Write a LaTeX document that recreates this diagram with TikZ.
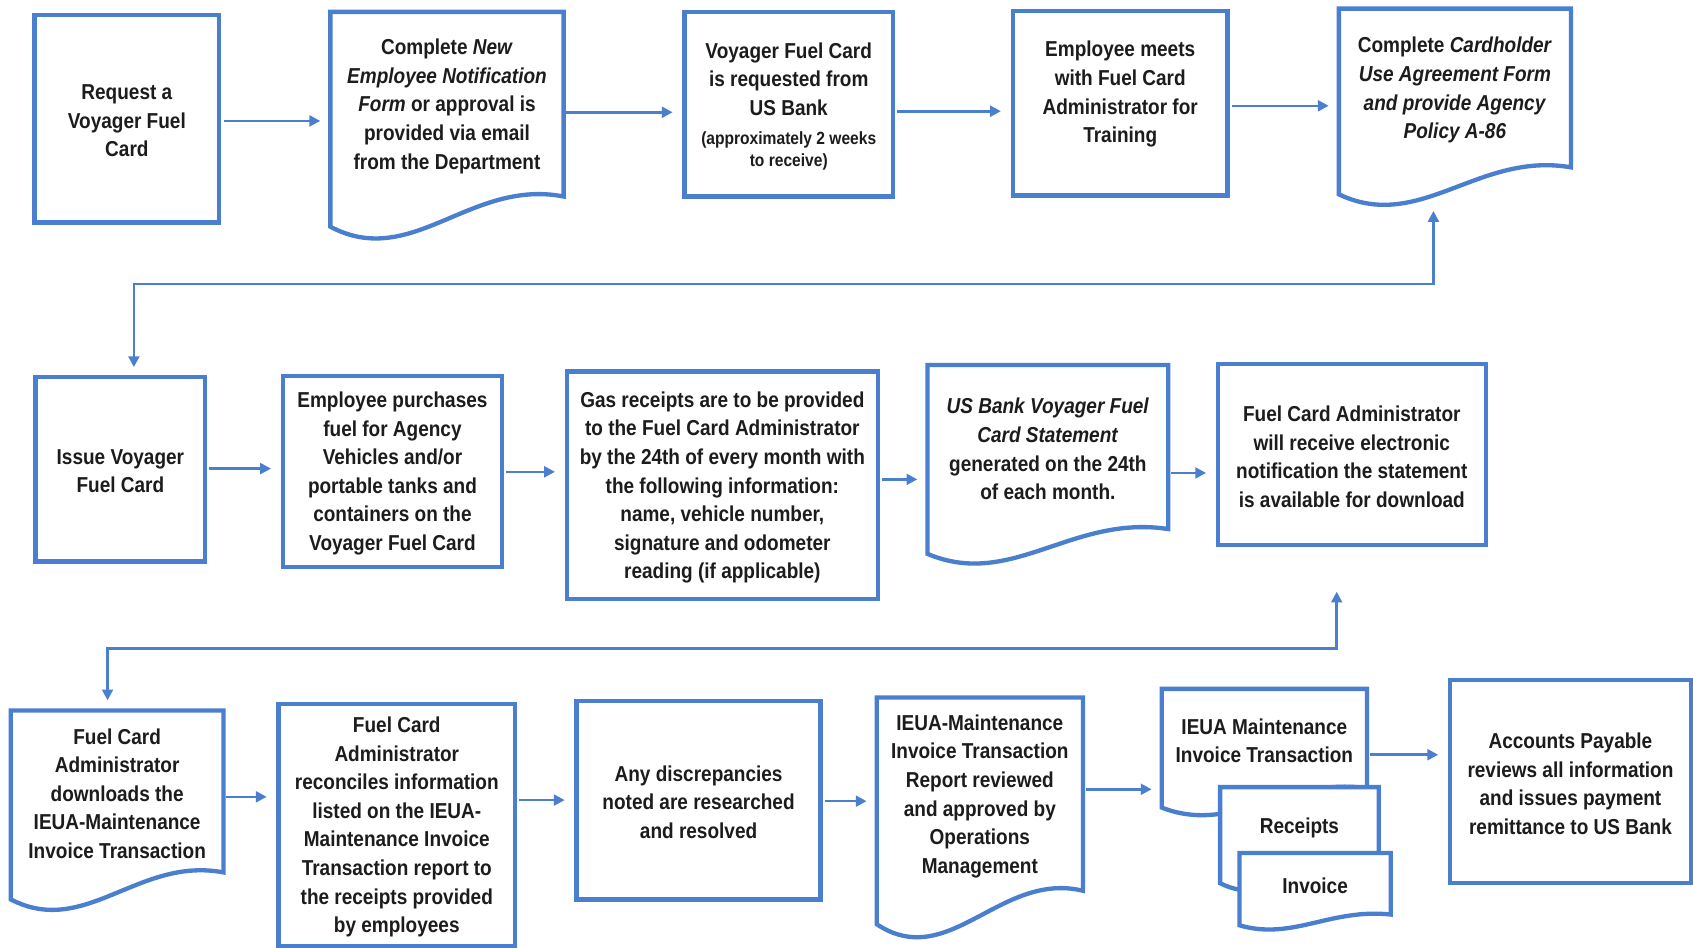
\documentclass[tikz,border=0pt]{standalone}
\usepackage{fontspec}
\setmainfont{Liberation Sans}[FakeStretch=0.88]
\usetikzlibrary{arrows.meta,fit,calc}
\definecolor{fcblue}{RGB}{74,126,207}
\definecolor{txt}{RGB}{28,28,28}
\newcommand\fcfont{\bfseries\fontsize{10}{13.25}\selectfont}
\newcommand\smallfc{\fontsize{8.2}{10}\selectfont}
\tikzset{
  box/.style={draw=fcblue, line width=2pt, fill=white, inner sep=0pt},
  docnode/.style={inner sep=0pt},
  txtn/.style={inner sep=0pt, align=center, text=txt, font=\fcfont},
  outline/.style={draw=fcblue, line width=2pt, fill=white},
  arr/.style={draw=fcblue, line width=1.2pt, -{Triangle[length=5pt,width=5pt]}, shorten >=4.5pt, shorten <=1pt},
  dbl/.style={draw=fcblue, line width=1.2pt, {Triangle[length=5pt,width=5pt]}-{Triangle[length=5pt,width=5pt]}},
}
% process box: name, x1, y1, x2, y2, text
\newcommand\fcbox[6]{%
  \node[box, fit={(#2,#3)(#4,#5)}] (#1) {};
  \node[txtn] (#1-t) at ([yshift=-1pt]#1.center) {#6};
}
% document shape: name, x1, y1 (top), x2, y2 (right bottom), wave depth, text
\newcommand\docshape[7]{%
  \draw[outline] (#2,#3) -- (#2,{#5+#6})
    .. controls ({#2+0.35*(#4-#2)},{#5+2.43*#6}) and ({#2+0.6*(#4-#2)},{#5-0.6*#6}) ..
    (#4,#5) -- (#4,#3) -- cycle;
  \node[docnode, fit={(#2,#3)(#4,#5)}] (#1) {};
  \node[txtn] (#1-t) at ([yshift=-1pt]#1.center) {#7};
}
\begin{document}
\begin{tikzpicture}[x=0.5pt,y=-0.5pt]
\useasboundingbox (0,0) rectangle (1568,878);

% ---- row 1
\fcbox{A}{32}{14}{203}{206}{Request a\\Voyager Fuel\\Card}
\docshape{B}{306}{11}{522}{182}{28}{Complete \textit{New}\\\textit{Employee Notification}\\\textit{Form} or approval is\\provided via email\\from the Department}
\fcbox{C}{634}{11}{827}{182}{Voyager Fuel Card\\is requested from\\US Bank\\{\smallfc (approximately 2 weeks}\\[-3pt]{\smallfc to receive)}}
\fcbox{D}{938}{10}{1137}{181}{Employee meets\\with Fuel Card\\Administrator for\\Training\\[-1pt]\mbox{}}
\docshape{E}{1240}{8}{1455}{155}{25}{Complete \textit{Cardholder}\\\textit{Use Agreement Form}\\\textit{and provide Agency}\\\textit{Policy A-86}}

% ---- row 2
\fcbox{F}{33}{349}{190}{520}{Issue Voyager\\Fuel Card}
\fcbox{G}{262}{348}{465}{525}{Employee purchases\\fuel for Agency\\Vehicles and/or\\portable tanks and\\containers on the\\Voyager Fuel Card}
\fcbox{H}{525}{344}{813}{555}{Gas receipts are to be provided\\to the Fuel Card Administrator\\by the 24th of every month with\\the following information:\\name, vehicle number,\\signature and odometer\\reading (if applicable)}
\docshape{I}{859}{338}{1082}{490}{23}{\textit{US Bank Voyager Fuel}\\\textit{Card Statement}\\generated on the 24th\\of each month.}
\fcbox{J}{1128}{337}{1376}{505}{Fuel Card Administrator\\will receive electronic\\notification the statement\\is available for download}

% ---- row 3
\docshape{K}{10}{658}{207}{808}{25}{Fuel Card\\Administrator\\downloads the\\IEUA-Maintenance\\Invoice Transaction}
\fcbox{L}{258}{652}{477}{876}{Fuel Card\\Administrator\\reconciles information\\listed on the IEUA-\\Maintenance Invoice\\Transaction report to\\the receipts provided\\by employees}
\fcbox{M}{534}{649}{760}{833}{Any discrepancies\\noted are researched\\and resolved}
\docshape{N}{812}{646}{1003}{825}{31}{IEUA-Maintenance\\Invoice Transaction\\Report reviewed\\and approved by\\Operations\\Management}
\docshape{O1}{1076}{638}{1266}{730}{18}{IEUA Maintenance\\Invoice Transaction}
\docshape{O2}{1130}{729}{1277}{800}{18}{Receipts}
\docshape{O3}{1148}{790}{1288}{847}{10}{Invoice}
\fcbox{P}{1343}{630}{1566}{818}{Accounts Payable\\reviews all information\\and issues payment\\remittance to US Bank}

% ---- connectors
\draw[arr] (A.east |- 0,112) -- (B.west |- 0,112);
\draw[arr] (B.east |- 0,104) -- (C.west |- 0,104);
\draw[arr] (C.east |- 0,103) -- (D.west |- 0,103);
\draw[arr] (D.east |- 0,98) -- (E.west |- 0,98);
\draw[dbl] ([shift={(88,40)}]E.south west) |- ([shift={(93,-84)}]F.north west) -- ([shift={(93,-7)}]F.north west);

\draw[arr] (F.east |- 0,434) -- (G.west |- 0,434);
\draw[arr] (G.east |- 0,437) -- (H.west |- 0,437);
\draw[arr] (H.east |- 0,444) -- (I.west |- 0,444);
\draw[arr] (I.east |- 0,438) -- (J.west |- 0,438);
\draw[dbl] ([shift={(112,41)}]J.south west) |- ([shift={(90,-57)}]K.north west) -- ([shift={(90,-9)}]K.north west);

\draw[arr] (K.east |- 0,738) -- (L.west |- 0,738);
\draw[arr] (L.east |- 0,741) -- (M.west |- 0,741);
\draw[arr] (M.east |- 0,742) -- (N.west |- 0,742);
\draw[arr] (N.east |- 0,731) -- (O1.west |- 0,731);
\draw[arr] (O1.east |- 0,699) -- (P.west |- 0,699);
\end{tikzpicture}
\end{document}
